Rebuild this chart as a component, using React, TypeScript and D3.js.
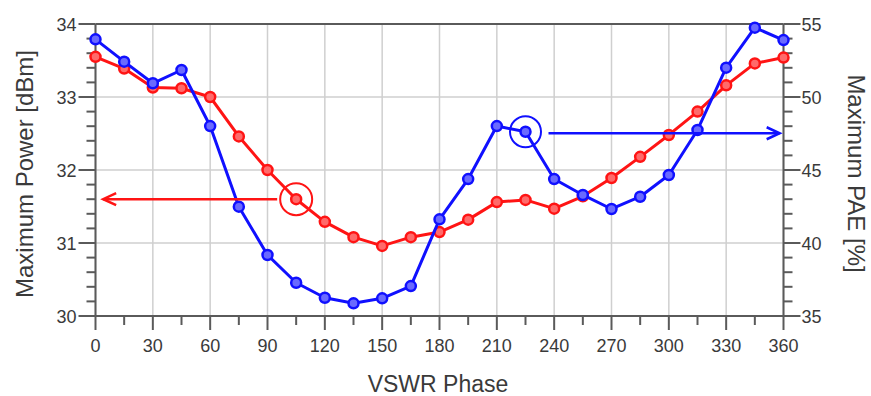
import React from "react";
import * as d3 from "d3";

const phases = [0, 15, 30, 45, 60, 75, 90, 105, 120, 135, 150, 165, 180, 195, 210, 225, 240, 255, 270, 285, 300, 315, 330, 345, 360];
const powerDbm = [33.55, 33.39, 33.13, 33.12, 33.0, 32.46, 32.0, 31.6, 31.29, 31.08, 30.96, 31.08, 31.15, 31.32, 31.56, 31.59, 31.47, 31.64, 31.89, 32.18, 32.48, 32.8, 33.16, 33.46, 33.54];
const paePct = [53.95, 52.42, 50.94, 51.85, 48.01, 42.49, 39.18, 37.28, 36.25, 35.87, 36.21, 37.05, 41.62, 44.38, 48.01, 47.62, 44.38, 43.29, 42.33, 43.17, 44.66, 47.74, 52.01, 54.75, 53.9];
const xTicks = [0, 30, 60, 90, 120, 150, 180, 210, 240, 270, 300, 330, 360];
const xMinorTicks = [15, 45, 75, 105, 135, 165, 195, 225, 255, 285, 315, 345];
const leftTicks = [30, 31, 32, 33, 34];
const rightTicks = [35, 40, 45, 50, 55];
const markedPowerPhase = 105;
const markedPaePhase = 225;

const RED = "#ff1414";
const BLUE = "#1010ff";
const FONT = "'Liberation Sans', Arial, sans-serif";

export default function App() {
  const W = 871, H = 396;
  const x0 = 95.5, x1 = 783.5, yTop = 24, yBot = 316;
  const x = d3.scaleLinear().domain([0, 360]).range([x0, x1]);
  const yL = d3.scaleLinear().domain([30, 34]).range([yBot, yTop]);
  const yR = d3.scaleLinear().domain([35, 55]).range([yBot, yTop]);

  const leftMinor = d3.range(30, 34.001, 0.2).filter((v) => Math.abs(v - Math.round(v)) > 0.01);
  const rightMinor = d3.range(35, 55.001, 1).filter((v) => v % 5 !== 0);

  const redLine = d3.line<number>().x((_, i) => x(phases[i])).y((d) => yL(d));
  const blueLine = d3.line<number>().x((_, i) => x(phases[i])).y((d) => yR(d));

  const grid = "#cfcfcf";
  const axis = "#5a5a5a";
  const txt = "#3a3a3a";

  const rIdx = phases.indexOf(markedPowerPhase);
  const bIdx = phases.indexOf(markedPaePhase);
  const rcx = x(markedPowerPhase), rcy = yL(powerDbm[rIdx]);
  const bcx = x(markedPaePhase), bcy = yR(paePct[bIdx]);
  const circR = 16;

  const redArrowTip = x(4);
  const blueArrowTip = x(358);
  const blueArrowY = bcy + 1.5;

  return (
    <svg width={W} height={H} style={{ position: "absolute", left: 0, top: 0, background: "#fff" }} fontFamily={FONT}>
      {/* grid */}
      {xTicks.map((t) => (
        <line key={"gx" + t} x1={x(t)} x2={x(t)} y1={yTop} y2={yBot} stroke={grid} strokeWidth={1.5} />
      ))}
      {leftTicks.map((t) => (
        <line key={"gy" + t} x1={x0} x2={x1} y1={yL(t)} y2={yL(t)} stroke={grid} strokeWidth={1.5} />
      ))}
      {/* frame */}
      <line x1={x0} x2={x1} y1={yTop} y2={yTop} stroke={axis} strokeWidth={2} />
      <line x1={x0} x2={x1} y1={yBot} y2={yBot} stroke={axis} strokeWidth={2} />
      <line x1={x0} x2={x0} y1={yTop} y2={yBot} stroke={axis} strokeWidth={2} />
      <line x1={x1} x2={x1} y1={yTop} y2={yBot} stroke={axis} strokeWidth={2} />
      {/* x ticks */}
      {xTicks.map((t) => (
        <g key={"xt" + t}>
          <line x1={x(t)} x2={x(t)} y1={yBot} y2={yBot + 14} stroke={axis} strokeWidth={2} />
          <text x={x(t)} y={yBot + 36} textAnchor="middle" fontSize={18} fill={txt}>{t}</text>
        </g>
      ))}
      {xMinorTicks.map((t) => (
        <line key={"xm" + t} x1={x(t)} x2={x(t)} y1={yBot} y2={yBot + 9} stroke={axis} strokeWidth={2} />
      ))}
      {/* left ticks */}
      {leftTicks.map((t) => (
        <g key={"lt" + t}>
          <line x1={x0 - 17} x2={x0} y1={yL(t)} y2={yL(t)} stroke={axis} strokeWidth={2} />
          <text x={x0 - 19} y={yL(t) + 6.5} textAnchor="end" fontSize={18} fill={txt}>{t}</text>
        </g>
      ))}
      {leftMinor.map((t, i) => (
        <line key={"lm" + i} x1={x0 - 9} x2={x0} y1={yL(t)} y2={yL(t)} stroke={axis} strokeWidth={2} />
      ))}
      {/* right ticks */}
      {rightTicks.map((t) => (
        <g key={"rt" + t}>
          <line x1={x1} x2={x1 + 17} y1={yR(t)} y2={yR(t)} stroke={axis} strokeWidth={2} />
          <text x={x1 + 18} y={yR(t) + 6.5} textAnchor="start" fontSize={18} fill={txt}>{t}</text>
        </g>
      ))}
      {rightMinor.map((t, i) => (
        <line key={"rm" + i} x1={x1} x2={x1 + 9} y1={yR(t)} y2={yR(t)} stroke={axis} strokeWidth={2} />
      ))}
      {/* axis titles */}
      <text x={438} y={392} textAnchor="middle" fontSize={23} fill={txt}>VSWR Phase</text>
      <text transform={`translate(33,174) rotate(-90)`} textAnchor="middle" fontSize={24} fill={txt}>Maximum Power [dBm]</text>
      <text transform={`translate(848,173.5) rotate(90)`} textAnchor="middle" fontSize={24} fill={txt}>Maximum PAE [%]</text>

      {/* red series */}
      <path d={redLine(powerDbm) || ""} fill="none" stroke={RED} strokeWidth={3} strokeLinejoin="round" />
      {powerDbm.map((v, i) => (
        <circle key={"rp" + i} cx={x(phases[i])} cy={yL(v)} r={5} fill="#ff6a6a" stroke={RED} strokeWidth={2.5} />
      ))}
      {/* blue series */}
      <path d={blueLine(paePct) || ""} fill="none" stroke={BLUE} strokeWidth={3} strokeLinejoin="round" />
      {paePct.map((v, i) => (
        <circle key={"bp" + i} cx={x(phases[i])} cy={yR(v)} r={5} fill="#6a6aff" stroke={BLUE} strokeWidth={2.5} />
      ))}

      {/* annotations */}
      <circle cx={rcx} cy={rcy} r={circR} fill="none" stroke={RED} strokeWidth={2} />
      <line x1={rcx - circR - 3} x2={redArrowTip} y1={rcy} y2={rcy} stroke={RED} strokeWidth={2.5} />
      <polyline points={`${redArrowTip + 13},${rcy - 6} ${redArrowTip},${rcy} ${redArrowTip + 13},${rcy + 6}`} fill="none" stroke={RED} strokeWidth={2.5} />

      <circle cx={bcx} cy={bcy} r={circR - 0.5} fill="none" stroke={BLUE} strokeWidth={2} />
      <line x1={bcx + circR + 7} x2={blueArrowTip} y1={blueArrowY} y2={blueArrowY} stroke={BLUE} strokeWidth={2.5} />
      <polyline points={`${blueArrowTip - 13},${blueArrowY - 6} ${blueArrowTip},${blueArrowY} ${blueArrowTip - 13},${blueArrowY + 6}`} fill="none" stroke={BLUE} strokeWidth={2.5} />
    </svg>
  );
}
